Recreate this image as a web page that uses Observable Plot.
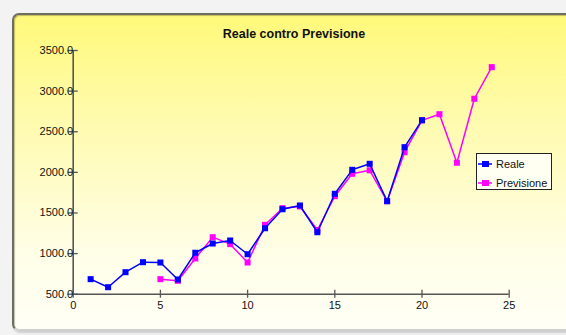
<!DOCTYPE html>
<html>
<head>
<meta charset="utf-8">
<script src="https://cdn.jsdelivr.net/npm/d3@7"></script>
<script src="https://cdn.jsdelivr.net/npm/@observablehq/plot@0.6"></script>
<style>
  html, body { margin: 0; padding: 0; }
  body { width: 566px; height: 335px; background: #f3f3f3; overflow: hidden; position: relative;
         font-family: "Liberation Sans", Arial, sans-serif; }
  #panel { position: absolute; left: 12px; top: 13px; width: 600px; height: 314px;
           border-radius: 7px; border: 2px solid #6e6e5e; border-right: none; border-bottom-color: #d0d0d0;
           background: linear-gradient(to bottom, #fff97a 0%, #fffbb0 35%, #fffee6 75%, #fffff6 100%);
           box-shadow: inset 1px 1px 1px rgba(0,0,0,0.25), 1px 2px 2px rgba(0,0,0,0.15); }
  #title { position: absolute; left: 0; width: 588px; top: 27px; text-align: center;
           font-weight: bold; font-size: 12.5px; color: #111; }
  #chart { position: absolute; left: 0; top: 0; }
  #legend { position: absolute; left: 476px; top: 153px; width: 74px; height: 35px;
            border: 1.5px solid #222; background: #fffff2; font-size: 11px; color: #111; }
  .row { position: absolute; left: 1px; height: 14px; display: flex; align-items: center; white-space: nowrap; }
  .row svg { margin-right: 4px; }
</style>
</head>
<body>
<div id="panel"></div>
<div id="title">Reale contro Previsione</div>
<div id="chart"></div>
<div id="legend"></div>
<script>
// Actual values, periods 1–20
const realePeriodi = [1, 2, 3, 4, 5, 6, 7, 8, 9, 10, 11, 12, 13, 14, 15, 16, 17, 18, 19, 20];
const realeValori = [685, 586, 771, 894, 890, 681, 1010, 1124, 1161, 992,
                     1312, 1546, 1592, 1263, 1736, 2031, 2105, 1645, 2310, 2642];

// Forecast values, periods 5–24
const previsionePeriodi = [5, 6, 7, 8, 9, 10, 11, 12, 13, 14, 15, 16, 17, 18, 19, 20, 21, 22, 23, 24];
const previsioneValori = [685, 665, 940, 1202, 1116, 890, 1354, 1559, 1580, 1290,
                          1706, 1982, 2025, 1645, 2248, 2640, 2716, 2118, 2906, 3295];

const serieNomi = ["Reale", "Previsione"];
const serieColori = ["#0000ff", "#ff00ff"];

const xTicks = [0, 5, 10, 15, 20, 25];
const yTicks = [500, 1000, 1500, 2000, 2500, 3000, 3500];

const reale = realePeriodi.map((x, i) => ({x, y: realeValori[i]}));
const previsione = previsionePeriodi.map((x, i) => ({x, y: previsioneValori[i]}));

const axisColor = "#555";
const font = "Liberation Sans, Arial, sans-serif";

const chart = Plot.plot({
  width: 566,
  height: 335,
  marginLeft: 72.7,
  marginRight: 57.3,
  marginTop: 50,
  marginBottom: 41.3,
  style: {background: "transparent", fontFamily: font, fontSize: "11px", color: "#111", overflow: "visible"},
  x: {domain: [0, 25]},
  y: {domain: [500, 3500]},
  marks: [
    // axis lines
    Plot.ruleX([0], {y1: 500, y2: 3500, stroke: axisColor, strokeWidth: 1.6}),
    Plot.ruleY([500], {x1: 0, x2: 25, stroke: axisColor, strokeWidth: 1.6}),
    // tick marks crossing the axes
    Plot.axisY(yTicks, {tickSize: 10, dx: 5, fill: "none", stroke: axisColor, strokeWidth: 1.3, label: null}),
    Plot.axisX(xTicks, {tickSize: 8, dy: -4, fill: "none", stroke: axisColor, strokeWidth: 1.3, label: null}),
    // tick labels
    Plot.axisY(yTicks, {tickSize: 0, tickPadding: 0, stroke: "none", fill: "#111",
                        tickFormat: d3.format(".1f"), label: null, fontSize: 11}),
    Plot.axisX(xTicks, {tickSize: 0, tickPadding: 7, stroke: "none", fill: "#111",
                        tickFormat: d3.format("d"), label: null, fontSize: 11}),
    // forecast series
    Plot.line(previsione, {x: "x", y: "y", stroke: serieColori[1], strokeWidth: 1.5}),
    Plot.dot(previsione, {x: "x", y: "y", symbol: "square", r: 3.4, fill: serieColori[1], stroke: "none"}),
    // actual series
    Plot.line(reale, {x: "x", y: "y", stroke: serieColori[0], strokeWidth: 1.5}),
    Plot.dot(reale, {x: "x", y: "y", symbol: "square", r: 3.4, fill: serieColori[0], stroke: "none"})
  ]
});
document.getElementById("chart").appendChild(chart);

// legend: line with square marker, then the series name
const legend = document.getElementById("legend");
serieNomi.forEach((nome, i) => {
  const row = document.createElement("div");
  row.className = "row";
  row.style.top = (3 + i * 18.5) + "px";
  row.innerHTML =
    `<svg width="14" height="10"><line x1="0" y1="5" x2="14" y2="5" stroke="${serieColori[i]}" stroke-width="1.5"/>` +
    `<rect x="4" y="2" width="7" height="6" fill="${serieColori[i]}"/></svg><span>${nome}</span>`;
  legend.appendChild(row);
});
</script>
</body>
</html>
